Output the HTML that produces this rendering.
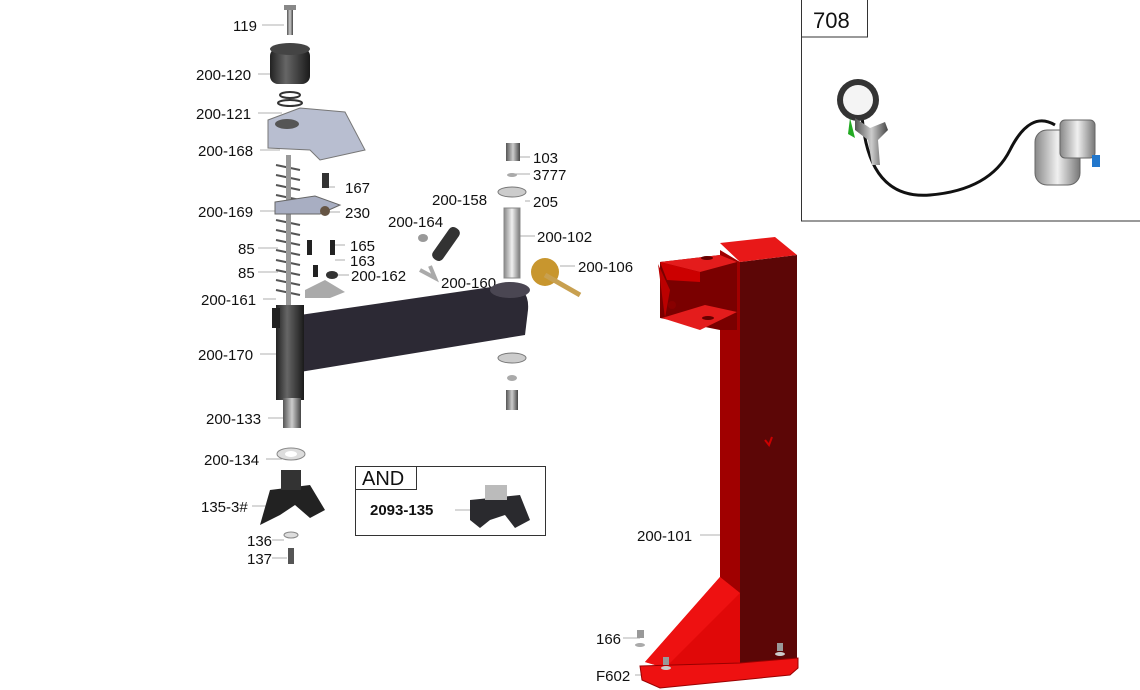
<!DOCTYPE html>
<html><head><meta charset="utf-8"><style>
html,body{margin:0;padding:0;background:#fff;}
svg{display:block;}
text{font-family:"Liberation Sans",sans-serif;font-size:15px;fill:#111;}
</style></head><body>
<svg width="1140" height="690" viewBox="0 0 1140 690" xmlns="http://www.w3.org/2000/svg">
<defs>
<linearGradient id="g" x1="0" x2="1"><stop offset="0" stop-color="#555"/><stop offset=".5" stop-color="#ccc"/><stop offset="1" stop-color="#444"/></linearGradient>
<linearGradient id="d" x1="0" x2="1"><stop offset="0" stop-color="#222"/><stop offset=".4" stop-color="#666"/><stop offset="1" stop-color="#1a1a1a"/></linearGradient>
<linearGradient id="s" x1="0" x2="1"><stop offset="0" stop-color="#888"/><stop offset=".5" stop-color="#f0f0f0"/><stop offset="1" stop-color="#777"/></linearGradient>
</defs>
<g stroke="#999" stroke-width="0.8">
<line x1="262" y1="25" x2="284" y2="25"/><line x1="258" y1="74" x2="275" y2="74"/><line x1="258" y1="113" x2="282" y2="113"/>
<line x1="260" y1="150" x2="280" y2="150"/><line x1="260" y1="211" x2="280" y2="211"/><line x1="258" y1="248" x2="278" y2="248"/>
<line x1="258" y1="272" x2="278" y2="272"/><line x1="263" y1="299" x2="276" y2="299"/><line x1="260" y1="354" x2="280" y2="354"/>
<line x1="268" y1="418" x2="285" y2="418"/><line x1="266" y1="459" x2="282" y2="459"/><line x1="252" y1="506" x2="280" y2="506"/>
<line x1="272" y1="540" x2="284" y2="540"/><line x1="272" y1="558" x2="287" y2="558"/><line x1="335" y1="187" x2="328" y2="187"/>
<line x1="340" y1="212" x2="330" y2="212"/><line x1="345" y1="245" x2="335" y2="245"/><line x1="345" y1="260" x2="335" y2="260"/>
<line x1="349" y1="275" x2="338" y2="275"/><line x1="530" y1="157" x2="515" y2="157"/><line x1="530" y1="174" x2="515" y2="174"/>
<line x1="530" y1="201" x2="525" y2="201"/><line x1="535" y1="236" x2="520" y2="236"/><line x1="575" y1="266" x2="560" y2="266"/>
<line x1="700" y1="535" x2="722" y2="535"/><line x1="623" y1="638" x2="640" y2="638"/><line x1="635" y1="675" x2="660" y2="675"/>
<line x1="455" y1="510" x2="480" y2="510"/>
</g>
<text x="233" y="31">119</text><text x="196" y="80">200-120</text><text x="196" y="119">200-121</text>
<text x="198" y="156">200-168</text><text x="345" y="193">167</text><text x="198" y="217">200-169</text>
<text x="345" y="218">230</text><text x="238" y="254">85</text><text x="350" y="251">165</text><text x="350" y="266">163</text>
<text x="238" y="278">85</text><text x="351" y="281">200-162</text><text x="201" y="305">200-161</text>
<text x="198" y="360">200-170</text><text x="206" y="424">200-133</text><text x="204" y="465">200-134</text>
<text x="201" y="512">135-3#</text><text x="247" y="546">136</text><text x="247" y="564">137</text>
<text x="432" y="205">200-158</text><text x="388" y="227">200-164</text><text x="533" y="163">103</text>
<text x="533" y="180">3777</text><text x="533" y="207">205</text><text x="537" y="242">200-102</text>
<text x="441" y="288">200-160</text><text x="578" y="272">200-106</text><text x="637" y="541">200-101</text>
<text x="596" y="644">166</text><text x="596" y="681">F602</text>
<rect x="801.5" y="-1" width="340" height="222" fill="none" stroke="#333"/>
<rect x="801.5" y="-1" width="66" height="38" fill="#fff" stroke="#333"/>
<text x="813" y="28" style="font-size:22px">708</text>
<path d="M862 115 Q868 200 930 195 Q990 190 1010 150 Q1030 110 1055 125" fill="none" stroke="#111" stroke-width="3"/>
<circle cx="858" cy="100" r="21" fill="#333"/><circle cx="858" cy="100" r="15" fill="#f4f4f4"/>
<path d="M855 118 L870 128 L885 122 L888 130 L878 140 L880 165 L872 165 L868 140 L855 130Z" fill="url(#g)"/>
<path d="M850 118 l5 20 l-7 -4z" fill="#2a2"/>
<rect x="1035" y="130" width="45" height="55" rx="12" fill="url(#s)" stroke="#666"/>
<rect x="1060" y="120" width="35" height="38" rx="5" fill="url(#s)" stroke="#666"/>
<rect x="1092" y="155" width="8" height="12" fill="#27c"/>
<rect x="355.5" y="466.5" width="190" height="69" fill="none" stroke="#333"/>
<rect x="355.5" y="466.5" width="61" height="23" fill="#fff" stroke="#333"/>
<text x="362" y="485" style="font-size:20px">AND</text>
<text x="370" y="515" style="font-weight:bold">2093-135</text>
<path d="M470 500 L520 495 L530 520 L515 528 L505 515 L490 520 L480 528 L470 520Z" fill="#2a2a2e"/>
<rect x="485" y="485" width="22" height="15" fill="#bbb"/>
<rect x="287" y="5" width="6" height="30" fill="url(#g)"/><rect x="284" y="5" width="12" height="5" fill="#888"/>
<rect x="270" y="48" width="40" height="36" rx="8" fill="url(#d)"/><ellipse cx="290" cy="49" rx="20" ry="6" fill="#444"/>
<ellipse cx="290" cy="95" rx="10" ry="3" fill="none" stroke="#333" stroke-width="2"/>
<ellipse cx="290" cy="103" rx="12" ry="3" fill="none" stroke="#333" stroke-width="2"/>
<path d="M268 120 L300 108 L345 112 L365 150 L320 160 L310 150 L268 148Z" fill="#b8bed0" stroke="#777"/>
<ellipse cx="287" cy="124" rx="12" ry="5" fill="#555"/>
<g stroke="#555" stroke-width="2" fill="none">
<path d="M276 165 l24 5 M276 175 l24 5 M276 185 l24 5 M276 195 l24 5 M276 220 l24 5 M276 230 l24 5 M276 240 l24 5 M276 250 l24 5 M276 260 l24 5 M276 270 l24 5 M276 280 l24 5 M276 290 l24 5"/>
</g>
<rect x="286" y="155" width="5" height="150" fill="#999"/>
<path d="M275 202 L315 196 L340 205 L320 214 L275 214Z" fill="#a8aec2" stroke="#666"/>
<rect x="322" y="173" width="7" height="15" fill="#333"/><circle cx="325" cy="211" r="5" fill="#654"/>
<rect x="307" y="240" width="5" height="15" fill="#222"/><rect x="330" y="240" width="5" height="15" fill="#222"/>
<rect x="313" y="265" width="5" height="12" fill="#222"/><ellipse cx="332" cy="275" rx="6" ry="4" fill="#333"/>
<path d="M305 290 L325 280 L345 292 L330 298 L305 298Z" fill="#aaa"/>
<ellipse cx="423" cy="238" rx="5" ry="4" fill="#999"/>
<path d="M420 270 l15 8 l-5 -12" stroke="#aaa" stroke-width="4" fill="none"/>
<rect x="440" y="225" width="12" height="38" rx="5" fill="#333" transform="rotate(35 446 244)"/>
<rect x="506" y="143" width="14" height="18" fill="url(#g)"/><ellipse cx="512" cy="175" rx="5" ry="2" fill="#aaa"/>
<ellipse cx="512" cy="192" rx="14" ry="5" fill="#ccc" stroke="#777"/>
<rect x="504" y="208" width="16" height="70" fill="url(#s)" stroke="#888"/>
<circle cx="545" cy="272" r="14" fill="#c8962e"/><line x1="545" y1="275" x2="580" y2="295" stroke="#c8a050" stroke-width="5"/>
<ellipse cx="512" cy="358" rx="14" ry="5" fill="#ccc" stroke="#777"/><ellipse cx="512" cy="378" rx="5" ry="3" fill="#aaa"/>
<rect x="506" y="390" width="12" height="20" fill="url(#g)"/>
<path d="M300 315 L505 285 Q530 285 528 310 L525 335 L300 372Z" fill="#2c2934"/>
<ellipse cx="510" cy="290" rx="20" ry="8" fill="#4a4652"/>
<rect x="276" y="305" width="28" height="95" fill="url(#d)"/>
<rect x="272" y="308" width="8" height="20" fill="#222"/>
<rect x="283" y="398" width="18" height="30" fill="url(#g)"/>
<ellipse cx="291" cy="454" rx="14" ry="6" fill="#ddd" stroke="#888"/><ellipse cx="291" cy="454" rx="6" ry="3" fill="#fff"/>
<path d="M270 490 L310 485 L325 510 L310 518 L295 505 L280 515 L260 525Z" fill="#222"/>
<rect x="281" y="470" width="20" height="20" fill="#333"/>
<ellipse cx="291" cy="535" rx="7" ry="3" fill="#ddd" stroke="#888"/><rect x="288" y="548" width="6" height="16" fill="#555"/>
<!-- red stand -->
<path d="M720 250 L740 262 L740 668 L720 668Z" fill="#a00000"/>
<path d="M740 262 L797 255 L797 662 L740 668Z" fill="#5c0606"/>
<path d="M720 243 L775 237 L797 255 L740 262Z" fill="#e81818"/>
<path d="M660 262 L720 255 L737 262 L737 330 L720 330 L660 318Z" fill="#7a0000"/>
<path d="M660 262 L720 255 L737 262 L700 272 Z" fill="#e41c1c"/>
<path d="M660 262 L700 272 L700 282 L667 280 Z" fill="#c00"/>
<path d="M662 318 L705 305 L737 312 L700 330 Z" fill="#e41c1c"/>
<path d="M658 264 L665 318 L670 290Z" fill="#b00"/>
<path d="M720 577 L740 593 L740 668 L665 668 L645 662Z" fill="#e00808"/>
<path d="M720 577 L740 593 L665 668 L645 662Z" fill="#ee1111"/>
<path d="M640 666 L740 663 L798 658 L798 668 L790 675 L660 688 L642 680Z" fill="#e11" stroke="#900"/>
<ellipse cx="707" cy="258" rx="6" ry="2" fill="#600"/><ellipse cx="708" cy="318" rx="6" ry="2" fill="#600"/>
<circle cx="672" cy="305" r="4" fill="#800"/>
<path d="M772 437 l-3 8 l-4 -5" stroke="#c00" stroke-width="2" fill="none"/>
<rect x="663" y="657" width="6" height="8" fill="#999"/><ellipse cx="666" cy="668" rx="5" ry="2" fill="#ccc"/>
<rect x="777" y="643" width="6" height="8" fill="#999"/><ellipse cx="780" cy="654" rx="5" ry="2" fill="#ccc"/>
<rect x="637" y="630" width="7" height="8" fill="#999"/><ellipse cx="640" cy="645" rx="5" ry="2" fill="#aaa"/>
</svg>
</body></html>
